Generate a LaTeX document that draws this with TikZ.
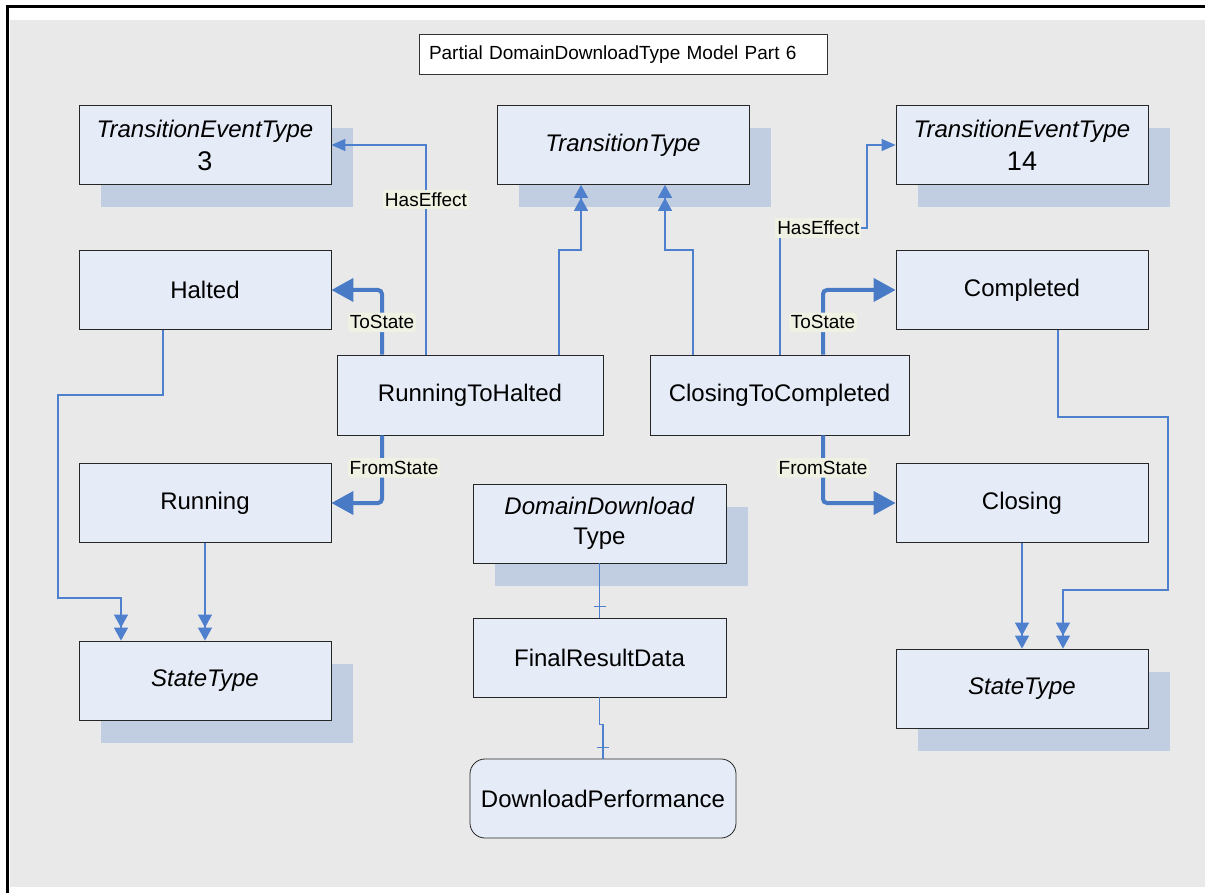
\documentclass[tikz,border=0pt]{standalone}
\usepackage{fontspec}
\setmainfont{Liberation Sans}
\usetikzlibrary{arrows.meta, calc, shadows}

\definecolor{bgc}{RGB}{233,233,233}
\definecolor{boxc}{RGB}{230,236,247}
\definecolor{shdc}{RGB}{193,205,224}
\definecolor{linec}{RGB}{72,122,198}
\definecolor{thinc}{RGB}{78,128,206}
\definecolor{lblc}{RGB}{239,241,227}

\tikzset{
  cls/.style={draw=black!85, fill=boxc, minimum width=126pt, minimum height=39.5pt,
    inner sep=1pt, align=center, font=\fontsize{12}{15}\selectfont},
  abst/.style={cls, general shadow={shadow xshift=11pt, shadow yshift=-11.5pt, fill=shdc}},
  lbl/.style={fill=lblc, inner xsep=1pt, inner ysep=1.5pt, text=black,
    font=\fontsize{9.5}{11}\selectfont},
  gen/.style={draw=thinc, line width=0.6pt,
    -{Triangle[width=7pt,length=6.5pt] Triangle[width=7pt,length=6.5pt]}},
  eff/.style={draw=thinc, line width=0.6pt, -{Triangle[width=6pt,length=7pt]}},
  stp/.style={draw=linec, line width=2pt, rounded corners=2pt,
    -{Triangle[width=11.5pt,length=11pt]}},
  assoc/.style={draw=thinc, line width=0.7pt},
}

\begin{document}
\begin{tikzpicture}[x=0.5pt, y=-0.5pt]
    \useasboundingbox (0,0) rectangle (1205,893);
    %背景と枠
    \fill[bgc] (10,20) rectangle (1205,887);
    \draw[line width=1.5pt] (7,893) -- (7,7) -- (1205,7);
    %タイトル
    \node[draw=black!80, fill=white, text width=194pt, align=left, inner xsep=5pt,
      minimum height=20pt, font=\fontsize{9.5}{11}\selectfont] (ttl) at (623,54.5)
      {Partial DomainDownloadType Model Part 6};
    %上段のクラス
    \node[abst] (te3) at (205,145) {\textit{TransitionEventType}\\[1.5pt]{\fontsize{13.5}{15}\selectfont 3}};
    \node[abst] (ttype) at (623,145) {\textit{TransitionType}};
    \node[abst] (te14) at (1022,145) {\textit{TransitionEventType}\\[1.5pt]{\fontsize{13.5}{15}\selectfont 14}};
    %状態と遷移
    \node[cls] (halted) at (205,290) {Halted};
    \node[cls] (completed) at (1022,290) {Completed};
    \node[cls, minimum width=133pt, minimum height=40pt] (rth) at (470,395) {RunningToHalted};
    \node[cls, minimum width=129.5pt, minimum height=40pt] (ctc) at (779.5,395) {ClosingToCompleted};
    \node[cls] (running) at (205,503) {Running};
    \node[cls] (closing) at (1022,503) {Closing};
    %下段
    \node[abst, minimum width=126.5pt] (ddt) at (599.5,523.5) {\textit{DomainDownload}\\Type};
    \node[abst] (stleft) at (205,680.5) {\textit{StateType}};
    \node[abst] (stright) at (1022,688.5) {\textit{StateType}};
    \node[cls, minimum width=126.5pt] (frd) at (599.5,657.5) {FinalResultData};
    \node[cls, minimum width=133pt, rounded corners=7.5pt] (dp) at (603,798.5) {DownloadPerformance};
    %折れ点
    \coordinate (hb1) at (58,395);
    \coordinate (hb2) at (121,598);
    \coordinate (cb1) at (1168,417);
    \coordinate (cb2) at (1063,590);
    \coordinate (tb1) at (581,250);
    \coordinate (tb2) at (665,250);
    \coordinate (eb) at (867,228);
    %汎化
    \draw[gen] ([xshift=-21pt]halted.south) |- (hb1) |- (hb2) -- ([xshift=-42pt]stleft.north);
    \draw[gen] (running) -- (stleft);
    \draw[gen] ([xshift=18pt]completed.south) |- (cb1) |- (cb2) -- ([xshift=20.5pt]stright.north);
    \draw[gen] (closing) -- (stright);
    \draw[gen] ([xshift=44.5pt]rth.north) |- (tb1) -- ([xshift=-21pt]ttype.south);
    \draw[gen] ([xshift=-43.25pt]ctc.north) |- (tb2) -- ([xshift=21pt]ttype.south);
    %HasEffect
    \draw[eff] ([xshift=-22pt]rth.north) |- node[lbl, pos=0.37] {HasEffect} (te3.east);
    \draw[eff] ([xshift=0.25pt]ctc.north) |- node[lbl, pos=0.72] {HasEffect} (eb) |- (te14.west);
    %ToState と FromState
    \draw[stp] ([xshift=-44pt]rth.north) |- node[lbl, pos=0.25] {ToState} (halted.east);
    \draw[stp] ([xshift=-44pt]rth.south) |- node[lbl, pos=0.24, xshift=6pt] {FromState} (running.east);
    \draw[stp] ([xshift=21.75pt]ctc.north) |- node[lbl, pos=0.25] {ToState} (completed.west);
    \draw[stp] ([xshift=21.75pt]ctc.south) |- node[lbl, pos=0.24] {FromState} (closing.west);
    %関連
    \draw[assoc] (ddt) -- (frd);
    \draw[assoc] ($(frd.north)+(-6,-11)$) -- +(12,0);
    \draw[assoc] (frd.south) -- ++(0,27) -| (dp.north);
    \draw[assoc] ($(dp.north)+(-6,-11)$) -- +(12,0);
\end{tikzpicture}
\end{document}
